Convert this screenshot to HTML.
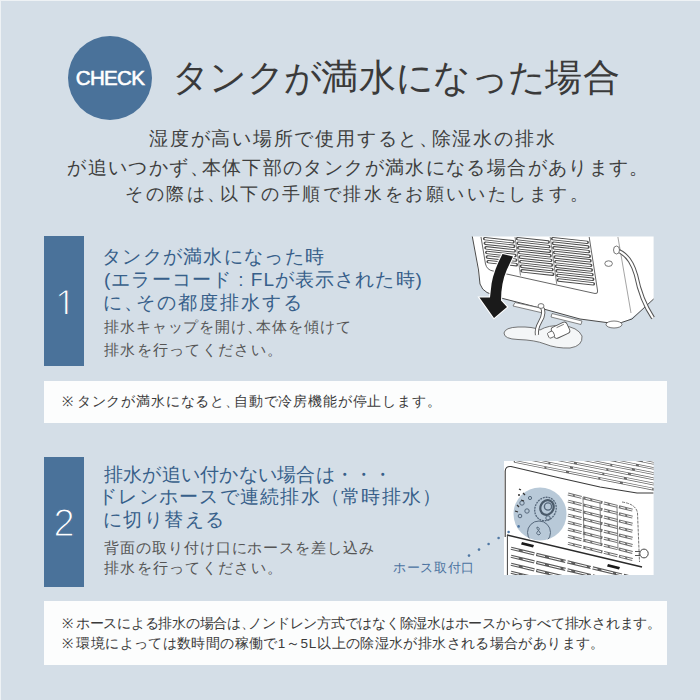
<!DOCTYPE html>
<html><head><meta charset="utf-8">
<style>
html,body{margin:0;padding:0;}
body{width:700px;height:700px;overflow:hidden;position:relative;background:#d4dee7;font-family:"Liberation Sans",sans-serif;}
.edge-t{position:absolute;left:0;top:0;width:700px;height:1px;background:#eef2f5;}
.edge-l{position:absolute;left:0;top:0;width:1px;height:700px;background:#eef2f5;}
.t{position:absolute;white-space:nowrap;line-height:1;}
.t i{display:inline-block;width:1em;margin-right:var(--ls);font-style:normal;letter-spacing:0;}
.t i.n{margin-right:calc(var(--ls) - 0.45em);}
.check{position:absolute;left:68px;top:36px;width:84px;height:84px;border-radius:50%;background:#4a729a;}
.check span{position:absolute;left:0;top:0;width:84px;height:84px;line-height:84px;text-align:center;color:#fff;font-weight:normal;font-size:20.5px;letter-spacing:-0.7px;-webkit-text-stroke:0.6px #fff;}
.num{position:absolute;left:44px;width:40px;height:130px;background:#4a729a;color:#fff;}
.num span{position:absolute;left:0;top:0;width:40px;height:130px;line-height:130px;text-align:center;font-size:38px;-webkit-text-stroke:1.2px #4a729a;}
.note{position:absolute;left:44px;width:623px;background:#fcfdfd;}
svg{position:absolute;}
</style></head><body>
<div class="edge-t"></div><div class="edge-l"></div>
<div class="check"><span>CHECK</span></div>
<div class="num" style="top:236px;"><div style="position:absolute;left:0;top:0;width:40px;height:78px;overflow:hidden"><span style="top:2.5px;left:1.5px">1</span></div></div>
<div class="note" style="top:381px;height:42px;"></div>
<div class="num" style="top:457px;"><span style="top:1px">2</span></div>
<div class="note" style="top:601px;height:64px;"></div>
<svg style="left:460px;top:225px" width="210" height="140" viewBox="460 225 210 140">
<path d="M472.3 236.5 L653.6 236.5 L653.6 299 Q640 312 628 320 Q620 324 610 323 L580 319 L540 308 L501 298 L487 292.5 Q482 290 480 284 Z" fill="#fff"/>
<path d="M472.3 236.5 L478.5 270 L480 284 Q482 290 487 292.5 L501 298 L540 308 L580 319 L610 323 Q622 324 632 319 L653.6 299" fill="none" stroke="#4a4a4a" stroke-width="1"/>
<path d="M617.9 237 L631 313" fill="none" stroke="#666" stroke-width="0.6"/>
<path d="M481 237 L485.5 264 Q487 270 493 271 L595 293.5 Q598 294 597.6 291 L589.2 237" fill="none" stroke="#555" stroke-width="0.9"/>
<path d="M515 237 L520.5 275.5 M550.2 237 L556.7 283.9" fill="none" stroke="#666" stroke-width="0.8"/>
<path d="M484.6 238.6L513.0 241.7M485.3 243.2L513.7 246.3M486.0 247.8L514.3 250.9M486.7 252.4L515.0 255.5M487.4 257.0L515.7 260.1M488.1 261.6L516.3 264.7M517.4 238.6L548.2 242.0M518.1 243.2L548.9 246.6M518.7 247.8L549.5 251.2M519.4 252.4L550.1 255.8M520.1 257.0L550.8 260.4M520.7 261.6L551.4 265.0M521.4 266.2L552.0 269.6M522.0 270.8L552.7 274.2M552.6 238.6L587.2 242.4M553.3 243.2L587.9 247.0M553.9 247.8L588.6 251.6M554.5 252.4L589.3 256.2M555.2 257.0L590.0 260.8M555.8 261.6L590.7 265.4M556.4 266.2L591.3 270.0M557.1 270.8L592.0 274.6M557.7 275.4L592.7 279.2M558.4 280.0L593.4 283.9" fill="none" stroke="#4d4d4d" stroke-width="3.4" stroke-linecap="round"/>
<path d="M485.2 238.7L512.4 241.7M485.9 243.3L513.1 246.2M486.6 247.9L513.7 250.8M487.3 252.5L514.4 255.4M488.0 257.1L515.1 260.0M488.7 261.7L515.7 264.6M518.0 238.7L547.6 241.9M518.7 243.3L548.3 246.5M519.3 247.9L548.9 251.1M520.0 252.5L549.5 255.7M520.7 257.1L550.2 260.3M521.3 261.7L550.8 264.9M522.0 266.3L551.4 269.5M522.6 270.9L552.1 274.1M553.2 238.7L586.6 242.3M553.9 243.3L587.3 246.9M554.5 247.9L588.0 251.5M555.1 252.5L588.7 256.2M555.8 257.1L589.4 260.8M556.4 261.7L590.1 265.4M557.0 266.3L590.7 270.0M557.7 270.9L591.4 274.6M558.3 275.5L592.1 279.2M559.0 280.1L592.8 283.8" fill="none" stroke="#fff" stroke-width="1.5" stroke-linecap="round"/>
<ellipse cx="608.6" cy="263.6" rx="3.8" ry="2.8" fill="#fff" stroke="#555" stroke-width="0.8"/>
<path d="M616 250 Q630 254 636 275 Q641 300 653 318" fill="none" stroke="#555" stroke-width="4.2"/>
<path d="M616 250 Q630 254 636 275 Q641 300 653 318" fill="none" stroke="#fff" stroke-width="2.2"/>
<ellipse cx="616.5" cy="250" rx="3" ry="4" fill="#fff" stroke="#555" stroke-width="0.8"/>
<path d="M515 302.5 L545 309 L543 313 L513 306 Z" fill="#fff" stroke="#555" stroke-width="0.7"/>
<path d="M552 313.5 L582 321 L581 324.5 L551 317 Z" fill="#fff" stroke="#555" stroke-width="0.7"/>
<ellipse cx="614" cy="324.5" rx="8" ry="3.5" fill="#fff" stroke="#555" stroke-width="0.8"/>
<path d="M504 333 Q505 327.5 518 327 Q533 326.5 540 330 Q548 325 562 325.5 Q578 327 582 336 Q583 346 570 348 Q556 348.5 545 344 Q535 340 518 339.5 Q504 339 504 333 Z" fill="#f4f6f7" stroke="#555" stroke-width="0.8"/>
<path d="M541 306 Q546 312 540 322 Q536 329 537 335" fill="none" stroke="#555" stroke-width="4.2"/>
<path d="M541 306 Q546 312 540 322 Q536 329 537 335" fill="none" stroke="#fff" stroke-width="2.4"/>
<ellipse cx="541" cy="306" rx="3" ry="2.4" fill="#fff" stroke="#555" stroke-width="0.8"/>
<g transform="rotate(-25 561 330)"><rect x="552" y="324" width="17" height="12" rx="3" fill="#fff" stroke="#555" stroke-width="0.9"/><rect x="547" y="327" width="6" height="6" rx="1.5" fill="#fff" stroke="#555" stroke-width="0.8"/><path d="M558 326 L566 326" stroke="#555" stroke-width="0.7"/></g>
<path d="M502.5 254 Q494 270 491.6 283.4 L490 297.5 L479.5 297.5 L494 318 L507 307 L501 300.5 Q501 283 506.8 269.7 L513 256.6 Z" fill="#1a1a1a" stroke="#fff" stroke-width="2.2" stroke-linejoin="miter"/>
<path d="M502.5 254 Q494 270 491.6 283.4 L490 297.5 L479.5 297.5 L494 318 L507 307 L501 300.5 Q501 283 506.8 269.7 L513 256.6 Z" fill="#1a1a1a"/>
</svg>
<svg style="left:460px;top:455px" width="200" height="125" viewBox="460 455 200 125">
<defs><clipPath id="c2"><rect x="504" y="461" width="149.6" height="114"/></clipPath></defs>
<rect x="504" y="461" width="149.6" height="114" fill="#fff"/>
<g clip-path="url(#c2)">
<path d="M515.0 461.5L660 490.5M519.0 457.1L660 485.3M523.0 452.7L660 480.1M527.0 448.3L660 474.9M531.0 443.9L660 469.7M535.0 439.5L660 464.5M539.0 435.1L660 459.3M543.0 430.7L660 454.1" fill="none" stroke="#666" stroke-width="2.6" stroke-linecap="round"/>
<path d="M515.0 461.5L660 490.5M519.0 457.1L660 485.3M523.0 452.7L660 480.1M527.0 448.3L660 474.9M531.0 443.9L660 469.7M535.0 439.5L660 464.5M539.0 435.1L660 459.3M543.0 430.7L660 454.1" fill="none" stroke="#fff" stroke-width="1.2" stroke-dasharray="30 2 20 3"/>
<path d="M505.2 537 L505.2 471 Q505.5 466 511 466.5 L560 478 L600 487 L637 493 L653.6 493" fill="none" stroke="#3a3a3a" stroke-width="1.1"/>
<path d="M568 494.0L634 510.5M568 501.1L634 517.5M568 508.1L634 524.6M568 515.1L634 531.6M568 522.2L634 538.7M568 529.2L634 545.8M568 536.3L634 552.8M568 543.4L634 559.9" fill="none" stroke="#707070" stroke-width="3.0" stroke-dasharray="14 1.5 20 1.5 14 1.5"/>
<path d="M568 494.0L634 510.5M568 501.1L634 517.5M568 508.1L634 524.6M568 515.1L634 531.6M568 522.2L634 538.7M568 529.2L634 545.8M568 536.3L634 552.8M568 543.4L634 559.9" fill="none" stroke="#fff" stroke-width="1.0" stroke-dasharray="5 2 9 2"/>
<path d="M622 502 Q636 504 637.5 513 L639.5 562" fill="none" stroke="#666" stroke-width="0.9" stroke-dasharray="3 1"/>
<path d="M583 497 L584 538 M600 502 L601 546 M617 506 L618 550" fill="none" stroke="#666" stroke-width="0.8"/>
<path d="M507 535 L642 567" fill="none" stroke="#2a2a2a" stroke-width="1.5"/>
<path d="M507.4 535 L507.4 576" fill="none" stroke="#444" stroke-width="1"/>
<path d="M511 548.3L640 579.3M511 556.3L640 587.3M511 564.3L640 595.3M511 572.3L640 603.3M511 580.3L640 611.3" fill="none" stroke="#5a5a5a" stroke-width="3.2" stroke-dasharray="24 2 30 2"/>
<path d="M511 548.3L640 579.3M511 556.3L640 587.3M511 564.3L640 595.3M511 572.3L640 603.3M511 580.3L640 611.3" fill="none" stroke="#fff" stroke-width="1.0" stroke-dasharray="8 4 12 3"/>
<path d="M522 542 L534 545 L533 547.5 L521 544.5 Z M608 564 L620 567 L619 569.5 L607 566.5 Z" fill="#1a1a1a"/>
<ellipse cx="644" cy="553.5" rx="4.2" ry="4.4" fill="#fff" stroke="#444" stroke-width="1"/>
<path d="M635 551.5 L640 551.5 M635 555.5 L640 555.5" stroke="#444" stroke-width="0.9"/>
</g>
<circle cx="540" cy="514" r="26.5" fill="#b8c9d8"/>
<clipPath id="cc"><circle cx="540" cy="514" r="26.5"/></clipPath>
<g fill="none" stroke="#56687b" stroke-width="1" clip-path="url(#cc)">
<ellipse cx="545.5" cy="509" rx="10.5" ry="12" transform="rotate(25 545.5 509)" stroke-width="1.3" stroke-dasharray="2 0.8"/><ellipse cx="547" cy="507.5" rx="6.5" ry="7.5" transform="rotate(25 547 507.5)" stroke-width="2.2" stroke="#4a5a6a"/><circle cx="548" cy="506.5" r="3.6" stroke-width="1.4"/><circle cx="548" cy="518" r="2.2"/>
<circle cx="539" cy="532.5" r="11.5"/><path d="M537 527 Q541 528 538 531 Q535 534 539 535 Q542 534 539 531 Q536 528 537 527"/>
<circle cx="527" cy="511" r="2.2"/><circle cx="522" cy="503" r="2.2"/><circle cx="520" cy="516" r="1.8"/><circle cx="530" cy="498" r="1.6"/>
</g>
<path d="M519 489 l2 1 M518 495 l2 0 M521 500 l3 1 M517 505 l2 2 M515 511 l3 1 M523 493 l2 2" stroke="#333" stroke-width="1.3"/>
<circle cx="469" cy="555.6" r="1.3" fill="#4f77a3"/>
<circle cx="479" cy="549.6" r="1.3" fill="#4f77a3"/>
<circle cx="488.6" cy="544" r="1.3" fill="#4f77a3"/>
<circle cx="498.6" cy="538" r="1.3" fill="#4f77a3"/>
<circle cx="508.6" cy="532" r="1.3" fill="#4f77a3"/>
<circle cx="518.6" cy="526.4" r="1.3" fill="#4f77a3"/>
</svg>
<div id="title" class="t" style="left:172.00px;top:59.00px;font-size:37.00px;letter-spacing:0.345px;--ls:0.345px;color:#3a3a3a"><i>タ</i><i>ン</i><i>ク</i><i>が</i><i>満</i><i>水</i><i>に</i><i>な</i><i>っ</i><i>た</i><i>場</i><i>合</i></div>
<div id="lead1" class="t" style="left:149.00px;top:130.40px;font-size:18.50px;letter-spacing:2.295px;--ls:2.295px;color:#3e3e3e"><i>湿</i><i>度</i><i>が</i><i>高</i><i>い</i><i>場</i><i>所</i><i>で</i><i>使</i><i>用</i><i>す</i><i>る</i><i>と</i><i class="n">、</i><i>除</i><i>湿</i><i>水</i><i>の</i><i>排</i><i>水</i></div>
<div id="lead2" class="t" style="left:67.30px;top:159.20px;font-size:18.50px;letter-spacing:1.882px;--ls:1.882px;color:#3e3e3e"><i>が</i><i>追</i><i>い</i><i>つ</i><i>か</i><i>ず</i><i class="n">、</i><i>本</i><i>体</i><i>下</i><i>部</i><i>の</i><i>タ</i><i>ン</i><i>ク</i><i>が</i><i>満</i><i>水</i><i>に</i><i>な</i><i>る</i><i>場</i><i>合</i><i>が</i><i>あ</i><i>り</i><i>ま</i><i>す</i><i>。</i></div>
<div id="lead3" class="t" style="left:125.00px;top:185.00px;font-size:18.00px;letter-spacing:2.605px;--ls:2.605px;color:#3e3e3e"><i>そ</i><i>の</i><i>際</i><i>は</i><i class="n">、</i><i>以</i><i>下</i><i>の</i><i>手</i><i>順</i><i>で</i><i>排</i><i>水</i><i>を</i><i>お</i><i>願</i><i>い</i><i>い</i><i>た</i><i>し</i><i>ま</i><i>す</i><i>。</i></div>
<div id="h11" class="t" style="left:102.00px;top:247.40px;font-size:19.00px;letter-spacing:1.300px;--ls:1.300px;color:#375f8a"><i>タ</i><i>ン</i><i>ク</i><i>が</i><i>満</i><i>水</i><i>に</i><i>な</i><i>っ</i><i>た</i><i>時</i></div>
<div id="h12" class="t" style="left:104.00px;top:270.00px;font-size:19.00px;letter-spacing:1.070px;--ls:1.070px;color:#375f8a">(<i>エ</i><i>ラ</i><i>ー</i><i>コ</i><i>ー</i><i>ド</i> : FL<i>が</i><i>表</i><i>示</i><i>さ</i><i>れ</i><i>た</i><i>時</i>)</div>
<div id="h13" class="t" style="left:103.00px;top:293.40px;font-size:19.00px;letter-spacing:1.933px;--ls:1.933px;color:#375f8a"><i>に</i><i class="n">、</i><i>そ</i><i>の</i><i>都</i><i>度</i><i>排</i><i>水</i><i>す</i><i>る</i></div>
<div id="s11" class="t" style="left:104.00px;top:320.00px;font-size:14.50px;letter-spacing:1.387px;--ls:1.387px;color:#555555"><i>排</i><i>水</i><i>キ</i><i>ャ</i><i>ッ</i><i>プ</i><i>を</i><i>開</i><i>け</i><i class="n">、</i><i>本</i><i>体</i><i>を</i><i>傾</i><i>け</i><i>て</i></div>
<div id="s12" class="t" style="left:104.00px;top:342.60px;font-size:14.50px;letter-spacing:1.800px;--ls:1.800px;color:#555555"><i>排</i><i>水</i><i>を</i><i>行</i><i>っ</i><i>て</i><i>く</i><i>だ</i><i>さ</i><i>い</i><i>。</i></div>
<div id="n1" class="t" style="left:62.00px;top:395.00px;font-size:13.50px;letter-spacing:1.340px;--ls:1.340px;color:#3a3a3a"><i>※</i><i>タ</i><i>ン</i><i>ク</i><i>が</i><i>満</i><i>水</i><i>に</i><i>な</i><i>る</i><i>と</i><i class="n">、</i><i>自</i><i>動</i><i>で</i><i>冷</i><i>房</i><i>機</i><i>能</i><i>が</i><i>停</i><i>止</i><i>し</i><i>ま</i><i>す</i><i>。</i></div>
<div id="h21" class="t" style="left:104.00px;top:464.70px;font-size:19.00px;letter-spacing:0.236px;--ls:0.236px;color:#375f8a"><i>排</i><i>水</i><i>が</i><i>追</i><i>い</i><i>付</i><i>か</i><i>な</i><i>い</i><i>場</i><i>合</i><i>は</i><i>・</i><i>・</i><i>・</i></div>
<div id="h22" class="t" style="left:98.00px;top:487.00px;font-size:19.00px;letter-spacing:1.269px;--ls:1.269px;color:#375f8a"><i>ド</i><i>レ</i><i>ン</i><i>ホ</i><i>ー</i><i>ス</i><i>で</i><i>連</i><i>続</i><i>排</i><i>水</i><i>（</i><i>常</i><i>時</i><i>排</i><i>水</i><i>）</i></div>
<div id="h23" class="t" style="left:103.00px;top:509.70px;font-size:19.00px;letter-spacing:1.400px;--ls:1.400px;color:#375f8a"><i>に</i><i>切</i><i>り</i><i>替</i><i>え</i><i>る</i></div>
<div id="s21" class="t" style="left:104.00px;top:541.00px;font-size:14.50px;letter-spacing:1.438px;--ls:1.438px;color:#555555"><i>背</i><i>面</i><i>の</i><i>取</i><i>り</i><i>付</i><i>け</i><i>口</i><i>に</i><i>ホ</i><i>ー</i><i>ス</i><i>を</i><i>差</i><i>し</i><i>込</i><i>み</i></div>
<div id="s22" class="t" style="left:104.00px;top:561.30px;font-size:14.50px;letter-spacing:1.800px;--ls:1.800px;color:#555555"><i>排</i><i>水</i><i>を</i><i>行</i><i>っ</i><i>て</i><i>く</i><i>だ</i><i>さ</i><i>い</i><i>。</i></div>
<div id="n21" class="t" style="left:62.00px;top:617.30px;font-size:13.50px;letter-spacing:0.265px;--ls:0.265px;color:#3a3a3a"><i>※</i><i>ホ</i><i>ー</i><i>ス</i><i>に</i><i>よ</i><i>る</i><i>排</i><i>水</i><i>の</i><i>場</i><i>合</i><i>は</i><i class="n">、</i><i>ノ</i><i>ン</i><i>ド</i><i>レ</i><i>ン</i><i>方</i><i>式</i><i>で</i><i>は</i><i>な</i><i>く</i><i>除</i><i>湿</i><i>水</i><i>は</i><i>ホ</i><i>ー</i><i>ス</i><i>か</i><i>ら</i><i>す</i><i>べ</i><i>て</i><i>排</i><i>水</i><i>さ</i><i>れ</i><i>ま</i><i>す</i><i>。</i></div>
<div id="n22" class="t" style="left:62.00px;top:637.00px;font-size:13.50px;letter-spacing:0.884px;--ls:0.884px;color:#3a3a3a"><i>※</i><i>環</i><i>境</i><i>に</i><i>よ</i><i>っ</i><i>て</i><i>は</i><i>数</i><i>時</i><i>間</i><i>の</i><i>稼</i><i>働</i><i>で</i>1<i>～</i>5L<i>以</i><i>上</i><i>の</i><i>除</i><i>湿</i><i>水</i><i>が</i><i>排</i><i>水</i><i>さ</i><i>れ</i><i>る</i><i>場</i><i>合</i><i>が</i><i>あ</i><i>り</i><i>ま</i><i>す</i><i>。</i></div>
<div id="lbl" class="t" style="left:393.00px;top:561.00px;font-size:13.00px;letter-spacing:0.700px;--ls:0.700px;color:#4a72a0"><i>ホ</i><i>ー</i><i>ス</i><i>取</i><i>付</i><i>口</i></div>
</body></html>
